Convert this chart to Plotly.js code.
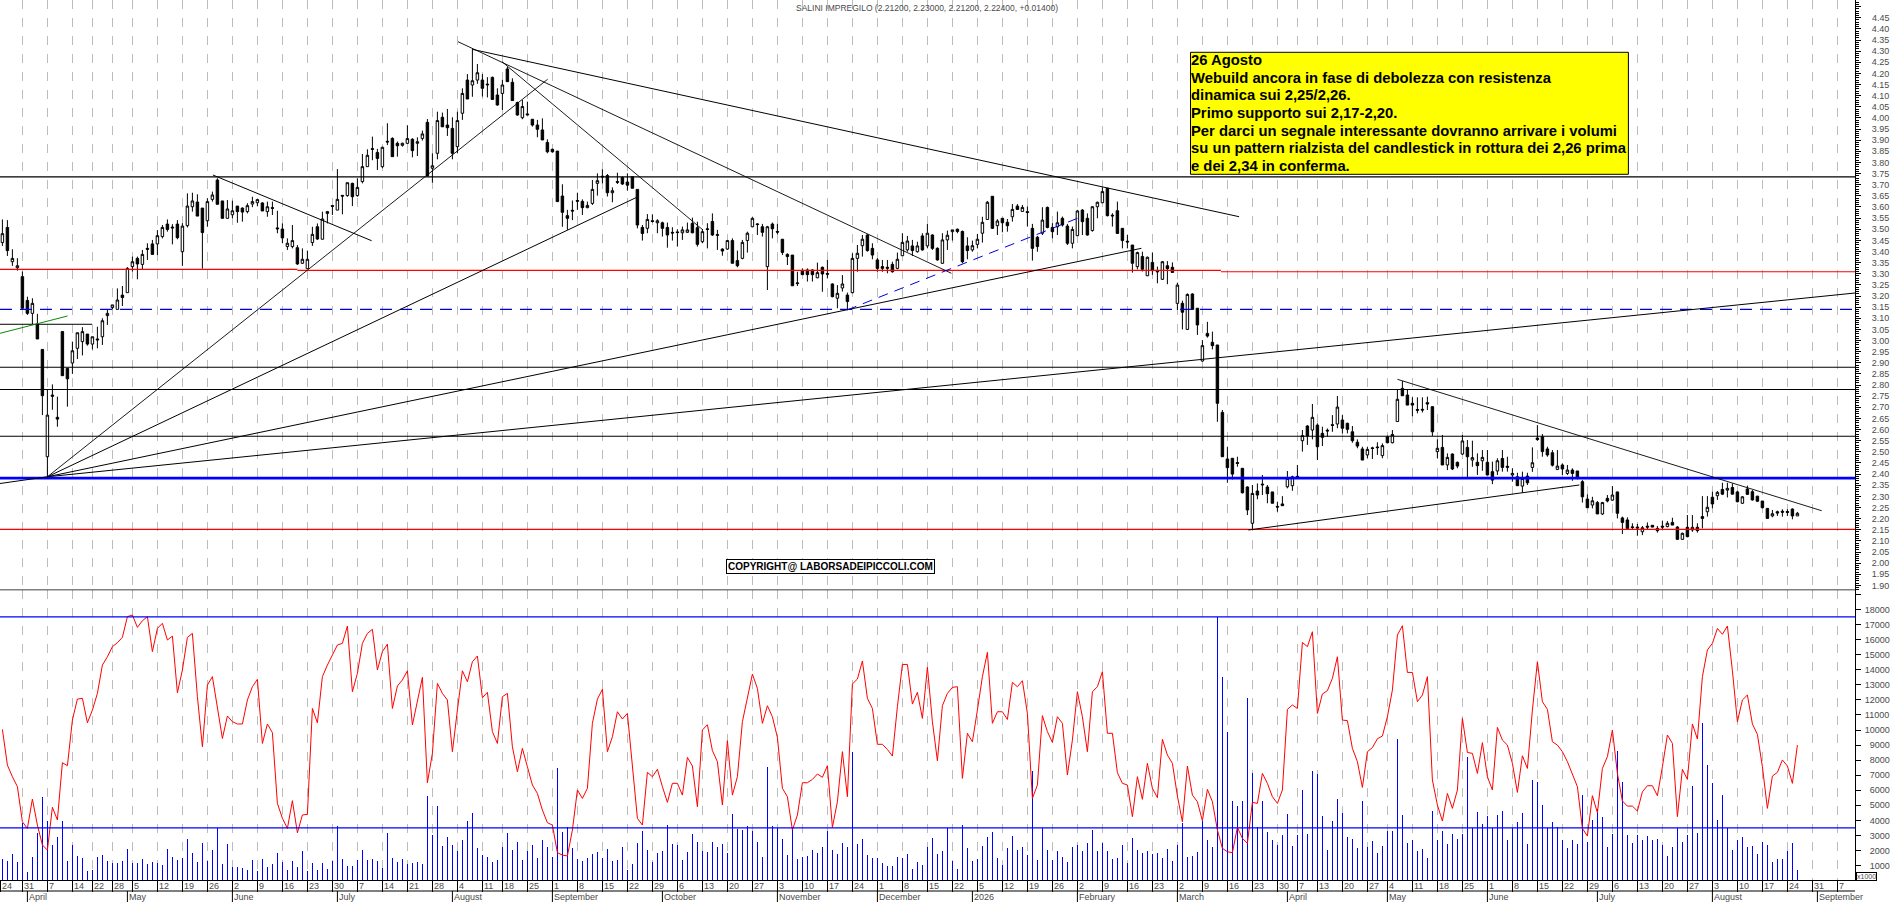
<!DOCTYPE html>
<html><head><meta charset="utf-8">
<script src="https://cdn.plot.ly/plotly-3.0.1.min.js"></script>
<style>html,body{margin:0;padding:0;background:#fff}#c{width:1890px;height:902px}</style></head>
<body><div id="c"></div>
<script>
const openP=[3.44,3.508,3.354,3.327,3.287,3.18,3.122,3.074,2.96,2.478,
2.755,2.655,3.04,2.875,2.899,2.965,2.995,3.029,2.984,3.007,
3.017,3.112,3.148,3.14,3.204,3.215,3.332,3.369,3.342,3.414,
3.434,3.434,3.467,3.523,3.51,3.523,3.399,3.516,3.601,3.622,
3.595,3.538,3.634,3.721,3.627,3.549,3.565,3.604,3.595,3.579,
3.613,3.619,3.618,3.579,3.597,3.506,3.501,3.422,3.422,3.417,
3.347,3.323,3.44,3.511,3.455,3.571,3.606,3.586,3.652,3.651,
3.706,3.651,3.714,3.781,3.862,3.845,3.781,3.895,3.908,3.886,
3.877,3.886,3.904,3.886,3.908,3.98,3.774,3.841,4.003,3.968,
3.953,3.871,4.021,4.17,4.148,4.17,4.17,4.152,4.182,4.103,
4.11,4.22,4.16,4.069,4.001,4.018,3.994,3.968,3.946,3.89,
3.859,3.851,3.649,3.561,3.585,3.629,3.625,3.597,3.616,3.706,
3.738,3.741,3.664,3.714,3.732,3.712,3.736,3.679,3.508,3.504,
3.538,3.529,3.529,3.508,3.486,3.488,3.484,3.486,3.526,3.507,
3.444,3.502,3.535,3.476,3.411,3.411,3.449,3.359,3.369,3.449,
3.511,3.524,3.511,3.332,3.523,3.49,3.455,3.387,3.384,3.259,
3.314,3.317,3.317,3.282,3.329,3.301,3.254,3.19,3.236,3.204,
3.215,3.369,3.426,3.474,3.414,3.362,3.332,3.329,3.342,3.324,
3.381,3.407,3.425,3.399,3.47,3.425,3.474,3.414,3.347,3.452,
3.489,3.5,3.49,3.425,3.407,3.432,3.482,3.544,3.648,3.516,
3.549,3.531,3.556,3.604,3.58,3.579,3.504,3.464,3.482,3.598,
3.508,3.511,3.549,3.514,3.437,3.471,3.586,3.549,3.494,3.601,
3.619,3.684,3.563,3.583,3.504,3.446,3.429,3.332,3.377,3.291,
3.351,3.313,3.275,3.336,3.329,3.167,3.167,3.05,3.209,3.145,
2.908,3.032,2.992,2.98,2.677,2.468,2.471,2.452,2.426,2.342,
2.179,2.324,2.355,2.342,2.32,2.255,2.266,2.343,2.348,2.39,
2.55,2.616,2.598,2.62,2.583,2.597,2.622,2.625,2.643,2.628,
2.59,2.543,2.513,2.486,2.518,2.522,2.483,2.568,2.541,2.636,
2.785,2.755,2.718,2.69,2.691,2.721,2.703,2.501,2.52,2.441,
2.49,2.453,2.49,2.52,2.463,2.453,2.46,2.453,2.411,2.414,
2.47,2.435,2.396,2.388,2.346,2.391,2.43,2.562,2.568,2.513,
2.496,2.421,2.441,2.403,2.418,2.414,2.366,2.288,2.261,2.272,
2.221,2.291,2.283,2.32,2.203,2.194,2.163,2.162,2.141,2.166,
2.17,2.156,2.166,2.164,2.183,2.162,2.107,2.161,2.149,2.161,
2.209,2.231,2.296,2.303,2.331,2.328,2.34,2.32,2.269,2.333,
2.321,2.301,2.279,2.246,2.212,2.231,2.233,2.232,2.243,2.212];
const closeP=[3.48,3.404,3.369,3.336,3.145,3.122,3.167,3.007,2.752,2.665,
2.75,2.647,2.842,2.828,2.954,3.035,3.04,2.984,3.017,3.003,
3.089,3.122,3.16,3.182,3.193,3.324,3.354,3.344,3.387,3.41,
3.387,3.471,3.508,3.499,3.506,3.462,3.514,3.604,3.627,3.559,
3.485,3.624,3.654,3.612,3.549,3.591,3.583,3.579,3.577,3.606,
3.624,3.633,3.582,3.601,3.594,3.502,3.461,3.437,3.449,3.344,
3.365,3.365,3.477,3.456,3.546,3.579,3.603,3.634,3.649,3.709,
3.646,3.688,3.781,3.832,3.859,3.818,3.868,3.892,3.826,3.875,
3.886,3.907,3.853,3.893,3.928,3.74,3.785,3.988,3.96,3.956,
3.841,3.988,4.11,4.085,4.167,4.203,4.133,4.149,4.083,4.058,
4.148,4.163,4.078,4.013,4.051,4.014,3.968,3.949,3.901,3.848,
3.848,3.624,3.576,3.549,3.582,3.626,3.597,3.607,3.679,3.718,
3.735,3.664,3.673,3.711,3.703,3.698,3.684,3.519,3.481,3.544,
3.535,3.538,3.504,3.474,3.483,3.485,3.497,3.497,3.484,3.432,
3.489,3.499,3.474,3.473,3.402,3.449,3.347,3.336,3.441,3.482,
3.549,3.521,3.486,3.511,3.502,3.487,3.396,3.377,3.246,3.256,
3.296,3.296,3.296,3.305,3.299,3.298,3.197,3.212,3.254,3.175,
3.369,3.392,3.455,3.404,3.384,3.324,3.324,3.325,3.309,3.365,
3.441,3.447,3.404,3.425,3.407,3.482,3.414,3.362,3.452,3.473,
3.497,3.49,3.354,3.404,3.426,3.455,3.531,3.621,3.504,3.537,
3.529,3.516,3.589,3.589,3.598,3.575,3.414,3.422,3.541,3.508,
3.489,3.529,3.519,3.437,3.499,3.582,3.534,3.474,3.601,3.621,
3.669,3.561,3.56,3.481,3.449,3.443,3.347,3.395,3.32,3.374,
3.314,3.309,3.354,3.323,3.306,3.249,3.127,3.207,3.14,3.07,
2.977,3.02,2.977,2.718,2.478,2.429,2.4,2.448,2.316,2.239,
2.313,2.306,2.352,2.312,2.269,2.252,2.258,2.381,2.388,2.385,
2.573,2.571,2.655,2.523,2.565,2.594,2.619,2.701,2.606,2.601,
2.55,2.526,2.463,2.511,2.515,2.519,2.528,2.541,2.578,2.736,
2.752,2.71,2.71,2.687,2.688,2.715,2.59,2.516,2.441,2.475,
2.423,2.436,2.549,2.478,2.474,2.438,2.475,2.396,2.373,2.46,
2.43,2.431,2.403,2.348,2.38,2.361,2.451,2.555,2.501,2.486,
2.44,2.436,2.423,2.418,2.403,2.384,2.298,2.249,2.28,2.221,
2.272,2.279,2.306,2.224,2.183,2.156,2.16,2.158,2.159,2.162,
2.162,2.146,2.162,2.179,2.171,2.107,2.134,2.119,2.161,2.146,
2.201,2.251,2.266,2.318,2.31,2.336,2.31,2.276,2.298,2.309,
2.284,2.278,2.249,2.201,2.222,2.225,2.229,2.228,2.212,2.224];
const highP=[3.544,3.541,3.41,3.37,3.31,3.197,3.19,3.12,2.96,2.778,
2.803,2.748,3.04,2.875,2.995,3.035,3.06,3.029,3.017,3.062,
3.10,3.14,3.16,3.234,3.245,3.33,3.377,3.377,3.407,3.437,
3.452,3.496,3.519,3.544,3.523,3.541,3.527,3.661,3.664,3.657,
3.595,3.639,3.669,3.729,3.627,3.631,3.628,3.604,3.598,3.617,
3.646,3.636,3.621,3.624,3.624,3.583,3.526,3.459,3.519,3.429,
3.414,3.404,3.511,3.526,3.579,3.582,3.609,3.77,3.654,3.709,
3.709,3.729,3.838,3.859,3.916,3.861,3.871,3.976,3.913,3.894,
3.889,3.967,3.909,3.913,3.943,3.995,3.841,4.028,4.024,4.04,
4.003,4.028,4.133,4.197,4.308,4.242,4.197,4.183,4.186,4.133,
4.171,4.23,4.178,4.073,4.081,4.073,3.994,3.991,3.998,3.904,
3.862,3.851,3.702,3.587,3.629,3.664,3.634,3.624,3.721,3.751,
3.769,3.748,3.688,3.754,3.736,3.751,3.736,3.679,3.519,3.568,
3.567,3.545,3.534,3.53,3.509,3.5,3.512,3.53,3.552,3.534,
3.501,3.527,3.571,3.497,3.414,3.452,3.459,3.404,3.452,3.489,
3.554,3.527,3.524,3.515,3.53,3.524,3.455,3.392,3.384,3.309,
3.324,3.324,3.32,3.35,3.332,3.362,3.257,3.249,3.294,3.215,
3.392,3.429,3.474,3.477,3.437,3.37,3.362,3.362,3.354,3.395,
3.482,3.47,3.452,3.444,3.482,3.523,3.477,3.419,3.482,3.494,
3.497,3.503,3.494,3.464,3.449,3.479,3.556,3.627,3.648,3.545,
3.549,3.546,3.613,3.613,3.609,3.602,3.524,3.47,3.599,3.602,
3.527,3.579,3.557,3.524,3.512,3.587,3.59,3.571,3.604,3.624,
3.688,3.684,3.572,3.624,3.504,3.474,3.429,3.399,3.399,3.377,
3.395,3.332,3.357,3.357,3.351,3.26,3.179,3.212,3.212,3.145,
3.002,3.084,3.04,2.98,2.688,2.523,2.471,2.478,2.426,2.345,
2.351,2.358,2.396,2.351,2.32,2.276,2.301,2.414,2.393,2.441,
2.598,2.62,2.715,2.628,2.613,2.605,2.665,2.751,2.665,2.631,
2.616,2.556,2.523,2.523,2.523,2.543,2.538,2.573,2.598,2.778,
2.818,2.778,2.745,2.745,2.745,2.748,2.703,2.556,2.576,2.493,
2.493,2.456,2.576,2.553,2.55,2.493,2.508,2.508,2.456,2.471,
2.508,2.478,2.426,2.406,2.411,2.406,2.52,2.62,2.58,2.523,
2.508,2.508,2.448,2.441,2.426,2.414,2.373,2.309,2.298,2.279,
2.275,2.306,2.346,2.32,2.209,2.206,2.179,2.176,2.167,2.183,
2.17,2.167,2.191,2.189,2.204,2.167,2.137,2.216,2.216,2.179,
2.301,2.301,2.321,2.324,2.361,2.361,2.358,2.325,2.301,2.348,
2.328,2.301,2.279,2.246,2.239,2.236,2.242,2.242,2.246,2.23];
const lowP=[3.425,3.38,3.335,3.314,3.145,3.115,3.074,3.007,2.665,2.388,
2.689,2.613,2.842,2.703,2.85,2.917,2.933,2.977,2.96,2.965,
2.98,3.07,3.14,3.14,3.155,3.215,3.31,3.275,3.32,3.362,
3.387,3.384,3.459,3.489,3.432,3.455,3.335,3.508,3.579,3.559,
3.323,3.511,3.624,3.612,3.549,3.549,3.549,3.529,3.534,3.571,
3.599,3.604,3.582,3.556,3.564,3.482,3.437,3.407,3.414,3.34,
3.344,3.323,3.425,3.452,3.455,3.526,3.564,3.586,3.567,3.646,
3.604,3.646,3.706,3.781,3.81,3.766,3.774,3.878,3.826,3.826,
3.871,3.883,3.823,3.829,3.898,3.736,3.709,3.814,3.96,3.919,
3.814,3.841,3.991,4.085,4.095,4.153,4.096,4.092,4.081,4.055,
4.036,4.163,4.078,4.01,3.994,4.012,3.961,3.913,3.901,3.841,
3.844,3.624,3.511,3.497,3.541,3.587,3.564,3.594,3.609,3.651,
3.706,3.647,3.621,3.703,3.699,3.673,3.684,3.504,3.449,3.482,
3.53,3.482,3.467,3.417,3.449,3.422,3.452,3.484,3.482,3.422,
3.437,3.414,3.47,3.407,3.381,3.407,3.347,3.329,3.365,3.395,
3.509,3.474,3.467,3.227,3.459,3.477,3.384,3.339,3.245,3.245,
3.294,3.265,3.265,3.28,3.219,3.28,3.194,3.145,3.22,3.137,
3.212,3.309,3.377,3.399,3.365,3.309,3.309,3.302,3.305,3.32,
3.38,3.399,3.38,3.395,3.404,3.414,3.407,3.359,3.344,3.407,
3.449,3.482,3.347,3.365,3.399,3.414,3.44,3.542,3.501,3.474,
3.486,3.489,3.534,3.589,3.58,3.512,3.359,3.399,3.474,3.504,
3.459,3.474,3.512,3.429,3.414,3.47,3.474,3.471,3.489,3.549,
3.617,3.557,3.512,3.479,3.414,3.414,3.305,3.32,3.31,3.29,
3.295,3.257,3.272,3.253,3.305,3.137,3.05,3.047,3.137,3.025,
2.905,3.013,2.96,2.635,2.478,2.361,2.376,2.433,2.313,2.216,
2.152,2.287,2.306,2.269,2.269,2.231,2.258,2.336,2.325,2.381,
2.501,2.531,2.556,2.463,2.526,2.568,2.59,2.606,2.583,2.583,
2.541,2.516,2.463,2.471,2.468,2.486,2.471,2.538,2.538,2.636,
2.752,2.71,2.66,2.673,2.677,2.688,2.571,2.471,2.441,2.418,
2.418,2.426,2.486,2.385,2.433,2.396,2.415,2.396,2.355,2.396,
2.411,2.411,2.366,2.346,2.316,2.351,2.41,2.55,2.478,2.478,
2.434,2.418,2.396,2.396,2.37,2.376,2.272,2.249,2.246,2.221,
2.216,2.273,2.28,2.201,2.131,2.152,2.149,2.123,2.126,2.149,
2.161,2.137,2.152,2.161,2.171,2.104,2.104,2.116,2.141,2.137,
2.156,2.209,2.246,2.284,2.306,2.295,2.309,2.273,2.266,2.306,
2.281,2.275,2.246,2.2,2.206,2.212,2.209,2.212,2.197,2.212];
// volume, in thousands (the chart is marked x1000)
const volumeK=[1.44,1.31,1.77,1.24,3.80,0.6,1.57,3.19,5.57,3.98,
2.37,2.90,3.98,1.31,2.37,1.64,1.50,0.64,0.71,1.57,
1.70,1.31,1.19,1.17,1.31,2.10,1.17,1.17,1.44,1.11,
1.24,1.17,1.04,2.10,1.57,1.37,1.50,2.77,1.84,1.24,
2.50,1.33,2.04,3.47,1.11,2.43,0.91,0.91,0.84,0.71,
1.37,0.64,1.44,0.91,1.11,1.84,1.24,0.71,1.31,0.91,
1.97,0.64,1.17,0.71,1.17,0.77,1.31,3.63,1.44,0.97,
0.97,1.37,2.04,1.37,1.44,1.31,0.84,3.19,1.50,1.24,
1.44,1.11,1.17,1.24,1.11,5.64,3.03,4.98,2.30,2.90,
2.37,1.97,2.70,3.98,4.49,2.17,1.70,1.57,1.24,1.37,
2.23,3.19,2.04,2.57,1.37,1.97,2.37,1.50,2.70,2.23,
1.57,7.50,3.23,3.56,2.17,1.44,1.31,1.50,1.77,1.90,
1.50,2.10,1.33,1.37,2.23,0.71,1.11,2.50,3.30,2.04,
1.24,1.84,1.97,3.69,2.43,2.37,1.37,1.90,3.10,2.57,
1.97,1.90,2.57,2.23,2.43,1.84,4.42,3.43,3.36,3.63,
3.30,2.57,1.57,7.54,3.63,3.49,2.77,1.70,3.47,1.44,
1.57,1.64,2.04,1.84,2.23,3.30,2.04,1.77,2.50,2.23,
8.52,2.43,2.77,1.70,1.50,1.50,1.17,0.97,0.97,1.57,
1.50,1.77,0.77,1.24,1.04,2.23,2.83,1.77,1.97,3.47,
1.31,0.77,3.69,2.17,1.31,1.44,2.30,2.90,3.23,1.50,
1.04,2.17,2.96,2.04,2.23,1.70,7.30,1.37,3.47,2.04,
1.37,1.97,1.57,1.24,2.23,2.37,1.97,2.50,3.36,1.97,
2.50,1.97,1.44,1.50,2.37,1.17,2.83,2.04,1.84,1.97,
1.77,1.84,1.50,2.10,1.31,2.37,3.85,1.57,1.64,1.90,
3.98,2.70,2.23,17.48,13.52,9.89,5.29,4.95,5.29,12.12,
7.14,3.54,5.29,3.23,2.70,2.37,3.03,4.42,2.30,3.03,
6.02,3.10,7.28,7.08,4.29,2.04,3.96,5.42,4.49,2.90,
2.77,2.17,5.29,2.23,2.63,1.84,2.30,3.32,3.32,9.40,
4.36,2.50,2.70,1.97,2.10,1.50,4.62,2.70,3.30,2.43,
3.10,2.77,3.10,8.23,3.47,4.56,3.78,4.29,3.47,4.36,
4.62,2.70,3.47,3.92,4.49,2.43,6.68,6.55,5.02,3.47,
3.89,3.56,2.70,2.17,2.70,2.43,5.68,2.57,4.03,4.76,
4.22,2.23,3.10,8.60,6.55,3.03,2.50,3.03,2.70,2.96,
2.70,2.77,2.37,1.64,2.23,3.47,2.57,3.03,6.28,3.19,
10.46,7.68,6.50,4.03,5.68,3.47,2.04,2.70,2.90,2.23,
2.30,1.77,2.57,2.37,1.24,1.44,1.44,1.97,2.50,0.71];
// red oscillator drawn in the volume panel, same scale
const indicatorK=[10.04,7.67,6.90,6.24,3.91,3.47,5.42,3.69,2.37,2.03,
4.87,4.03,7.83,7.63,10.66,12.05,12.10,10.48,11.32,12.43,
14.31,14.86,15.53,15.79,16.15,17.52,17.63,16.81,17.25,17.52,
15.2,16.74,17.08,15.97,16.23,12.47,13.98,16.15,16.41,12.21,
8.89,12.98,13.54,11.55,9.44,10.93,10.55,10.4,10.4,11.99,
12.87,13.36,9.11,10.4,9.82,5.13,4.14,3.47,5.31,3.18,
4.36,4.4,11.43,10.48,13.54,14.31,14.97,15.64,15.75,16.9,
12.54,13.76,15.75,16.41,16.68,13.98,15.2,15.7,11.43,12.92,
13.32,13.93,10.33,11.99,13.49,6.5,8.45,13.09,12.43,11.99,
8.56,11.32,13.93,13.2,14.53,14.91,12.14,12.5,9.89,9.11,
12.21,12.43,8.89,7.23,8.78,7.56,6.35,5.79,4.69,3.85,
3.69,1.86,1.7,1.64,3.36,6.02,5.46,6.13,10.44,12.05,
12.7,8.56,9.55,11.21,10.73,11.1,
7.56,4.14,3.69,7.19,6.9,7.39,6.24,5.2,6.46,6.46,
5.68,8.18,7.61,4.91,10,10.35,8.63,7.9,5.02,9.29,
5.68,6.9,10.55,12.21,13.71,12.76,10.44,11.61,10.88,9.51,
6.13,5.57,3.36,4.36,6.5,6.5,6.72,7.08,6.86,7.63,
3.54,5.24,8.56,5.57,13.05,13.38,14.58,12.1,11.43,9.05,
9.05,8.71,8.27,11.55,14.35,14.35,11.72,12.5,10.77,14.16,
10.55,7.96,11.61,12.43,12.83,12.87,6.79,9.78,9.22,11.32,
13.54,15.15,10.44,11.21,11.21,10.7,13.16,12.87,13.27,11.1,
5.46,6.35,10.95,9.89,9.18,10.88,10.44,7.01,9.33,12.54,
10.88,8.56,12.54,12.87,13.87,9.78,9.78,7.17,6.46,6.35,
4.25,6.9,5.4,7.79,6.13,5.51,9.38,8.34,7.79,5.62,
3.91,7.61,5.68,5.24,3.98,6.06,5.24,3.36,2.15,1.92,
1.86,3.54,2.81,2.48,5.2,5.13,
7.12,6.46,5.57,5.13,6.02,11.37,11.66,11.43,15.81,15.53,
16.52,11.1,12.39,12.61,13.43,14.86,10.66,10.62,8.78,7.9,
6.19,8.56,8.83,9.42,9.6,10.88,12.65,16.3,16.92,13.82,
13.82,11.88,12.32,13.54,6.68,5.02,3.96,5.79,4.8,6.02,
10.77,8.51,8.45,7.12,9.16,6.9,6.02,10.17,9.33,9,
7.79,5.86,8.29,7.45,11.32,14.53,11.88,11.37,9.22,9,
8.56,7.9,7.12,6.24,3.47,2.96,5.64,4.51,7.45,8.23,
10,7.12,5.29,4.95,4.95,4.62,5.9,6.3,6.3,5.64,
7.56,9.67,9.11,4.25,7.39,6.72,10.4,9.4,13.54,15.31,
15.75,16.74,16.35,16.9,13.93,10.55,11.99,12.32,10.4,9.71,
7.56,4.8,6.94,7.19,8.01,7.61,6.46,9];

const barIndex=openP.map((_,i)=>i);
// Calendar ticks: position in trading sessions and printed label
const dayTickIdx=[-0.4,4,9,14,18,22,26,31,36,41,46,51,56,61,66,71,76,81,86,91,96,100,105,110,115,120,125,130,135,140,145,150,155,160,165,170,175,180,185,190,195,200,205,210,215,220,225,230,235,240,245,250,255,259,263,268,273,277,282,287,292,297,302,307,312,317,322,327,332,337,342,347,352,357,362,367];
const dayTickLabels=['24','31','7','14','22','28','5','12','19','26','2','9','16','23','30','7','14','21','28','4','11','18','25','1','8','15','22','29','6','13','20','27','3','10','17','24','1','8','15','22','5','12','19','26','2','9','16','23','2','9','16','23','30','7','13','20','27','4','11','18','25','1','8','15','22','29','6','13','20','27','3','10','17','24','31','7'];
const monthTickIdx=[5,25,46,67,90,110,132,155,175,194,215,235,257,277,297,319,342,363];
const monthLabels=['April','May','June','July','August','September','October','November','December','2026','February','March','April','May','June','July','August','September'];
// 4.50 has a tick mark but no printed label in the reference
const priceTicks=[];for(let k=190;k<=450;k+=5)priceTicks.push(k/100);
const volumeTicks=[1,2,3,4,5,6,7,8,9,10,11,12,13,14,15,16,17,18,19];
const volumeTickLabels=['1000','2000','3000','4000','5000','6000','7000','8000','9000','10000','11000','12000','13000','14000','15000','16000','17000','18000',''];

// Horizontal levels [price, from bar, to bar, colour, width, dash]
const priceLevels=[
 [3.735,-0.48,370.52,'#000000',1.2,'solid'],
 [3.32,-0.48,59,'#ff0000',1.2,'solid'],
 [3.315,59,243.7,'#ff0000',1.2,'solid'],
 [3.309,243.7,370.52,'#ff0000',1.2,'solid'],
 [3.14,-0.48,370.52,'#0000e0',1.2,'dash'],
 [3.073,-0.48,17.92,'#000000',1,'solid'],
 [2.88,-0.48,370.52,'#000000',1.2,'solid'],
 [2.78,-0.48,370.52,'#000000',1.2,'solid'],
 [2.57,-0.48,370.52,'#000000',1.2,'solid'],
 [2.382,-0.48,370.52,'#0000ff',2.6,'solid'],
 [2.152,-0.48,370.52,'#ff0000',1.3,'solid'],
 [1.878,-0.48,370.52,'#000000',1.4,'solid']];
const volumeLevels=[17.5,3.5];
// Trend lines [bar0, price0, bar1, price1, colour, width, dash]
const trendLines=[
 [42.1,3.7436,73.84,3.4484,'#000000',1,'solid'],
 [9,2.388,109.04,4.1735,'#000000',0.9,'solid'],
 [9,2.388,127.12,3.6461,'#000000',1,'solid'],
 [9,2.388,227.8,3.4143,'#000000',1,'solid'],
 [9,2.388,370.52,3.2135,'#000000',1,'solid'],
 [-0.48,2.3577,9,2.388,'#000000',1,'solid'],
 [91.12,4.3424,189.8,3.302,'#000000',0.9,'solid'],
 [93.92,4.3083,247.34,3.5562,'#000000',1,'solid'],
 [99.92,4.2526,140.12,3.4965,'#000000',0.9,'solid'],
 [168.92,3.1371,215.52,3.5535,'#0000e0',1,'dash'],
 [279,2.8258,363.86,2.2355,'#000000',0.9,'solid'],
 [249.18,2.1488,315.4,2.351,'#000000',1,'solid'],
 [-0.48,3.0324,13.02,3.1102,'#0a8a0a',1,'solid']];

const noteLines=['26 Agosto','Webuild ancora in fase di debolezza con resistenza','dinamica sui 2,25/2,26.','Primo supporto sui 2,17-2,20.','Per darci un segnale interessante dovranno arrivare i volumi','su un pattern rialzista del candlestick in rottura dei 2,26 prima','e dei 2,34 in conferma.'];
const titleText='SALINI IMPREGILO (2.21200, 2.23000, 2.21200, 2.22400, +0.01400)';
const copyrightText='COPYRIGHT@ LABORSADEIPICCOLI.COM';

const W=1855,H=880,FONT='"Liberation Sans",Arial,sans-serif',GREY='#4a4a4a';
const py=p=>(H-p)/H, px=p=>p/W;
const shapes=[],annotations=[];
priceLevels.forEach(l=>shapes.push({type:'line',xref:'x',yref:'y',x0:l[1],x1:l[2],y0:l[0],y1:l[0],line:{color:l[3],width:l[4],dash:l[5]==='dash'?'12px,8px':'solid'},layer:'above'}));
volumeLevels.forEach(v=>shapes.push({type:'line',xref:'paper',x0:0,x1:1,yref:'y2',y0:v,y1:v,line:{color:'#0000ff',width:1.2},layer:'above'}));
trendLines.forEach(t=>shapes.push({type:'line',xref:'x',yref:'y',x0:t[0],y0:t[1],x1:t[2],y1:t[3],line:{color:t[4],width:t[5],dash:t[6]==='dash'?'10px,7px':'solid'},layer:'above'}));
// calendar row separator and month ticks
shapes.push({type:'line',xref:'paper',yref:'paper',x0:0,x1:1,y0:py(891),y1:py(891),line:{color:'#000',width:1}});
monthTickIdx.forEach(i=>shapes.push({type:'line',xref:'x',yref:'paper',x0:i,x1:i,y0:py(891),y1:py(902),line:{color:'#000',width:1}}));
// note box
shapes.push({type:'rect',xref:'paper',yref:'paper',x0:px(1190.5),x1:px(1628.4),y0:py(52.3),y1:py(174.3),fillcolor:'#ffff00',line:{color:'#000',width:1},layer:'above'});
const noteY=[60,78,95,113,131,148,166];
noteLines.forEach((t,k)=>annotations.push({xref:'paper',yref:'paper',x:px(1190),y:py(noteY[k]),xanchor:'left',yanchor:'middle',text:t,showarrow:false,align:'left',font:{family:FONT,size:14.8,color:'#000',weight:700},borderpad:0}));
annotations.push({xref:'paper',yref:'paper',x:px(830.3),y:py(566.5),xanchor:'center',yanchor:'middle',text:copyrightText,showarrow:false,font:{family:FONT,size:10,color:'#000',weight:700},bgcolor:'#fff',bordercolor:'#000',borderwidth:1,borderpad:1});
dayTickIdx.forEach((i,k)=>annotations.push({xref:'x',yref:'paper',x:i,xshift:1,y:py(886),xanchor:'left',yanchor:'middle',text:dayTickLabels[k],showarrow:false,font:{family:FONT,size:9,color:GREY},borderpad:0}));
monthTickIdx.forEach((i,k)=>annotations.push({xref:'x',yref:'paper',x:i,xshift:1,y:py(897),xanchor:'left',yanchor:'middle',text:monthLabels[k],showarrow:false,font:{family:FONT,size:9,color:GREY},borderpad:0}));
annotations.push({xref:'paper',yref:'paper',x:px(1866.5),y:py(876.5),xanchor:'center',yanchor:'middle',text:'x1000',showarrow:false,font:{family:FONT,size:7,color:GREY},bordercolor:'#000',borderwidth:1,borderpad:0});
// top price label, kept as an explicit annotation so it is always printed
annotations.push({xref:'paper',yref:'y',x:px(1871),y:4.45,xanchor:'left',yanchor:'middle',text:'4.45',showarrow:false,font:{family:FONT,size:9,color:GREY},borderpad:0});

const split=(880-590.3)/880;
const traces=[
 {type:'bar',x:barIndex,y:volumeK,xaxis:'x',yaxis:'y2',width:0.28,marker:{color:'#0000ff',line:{width:0}},hoverinfo:'skip'},
 {type:'scatter',mode:'lines',x:barIndex,y:indicatorK,xaxis:'x',yaxis:'y2',line:{color:'#ff0000',width:1},hoverinfo:'skip'},
 {type:'candlestick',x:barIndex,open:openP,high:highP,low:lowP,close:closeP,xaxis:'x',yaxis:'y',whiskerwidth:0,
  increasing:{line:{color:'#000',width:1},fillcolor:'#ffffff'},decreasing:{line:{color:'#000',width:1},fillcolor:'#000000'},hoverinfo:'skip'}
];
const layout={
 width:1890,height:902,margin:{l:0,r:35,t:0,b:22,pad:0},paper_bgcolor:'#fff',plot_bgcolor:'#fff',showlegend:false,boxgap:0.3,
 title:{text:titleText,xref:'container',yref:'container',x:927/1890,y:1-8/902,xanchor:'center',yanchor:'middle',font:{family:FONT,size:8.5,color:GREY}},
 font:{family:FONT},
 xaxis:{domain:[0,1],range:[-0.48,370.52],anchor:'y2',rangeslider:{visible:false},tickmode:'array',tickvals:dayTickIdx,ticktext:dayTickLabels.map(()=>''),
  ticks:'outside',ticklen:11,tickcolor:'#000',tickwidth:1,showticklabels:false,showgrid:true,griddash:'dash',gridcolor:'#bcbcbc',gridwidth:1,showline:true,linecolor:'#000',linewidth:1,zeroline:false},
 yaxis:{domain:[split,1],range:[1.878,4.5297],side:'right',anchor:'x',tickmode:'array',tickvals:priceTicks,ticktext:priceTicks.map(v=>(v===4.5||v===4.45)?'':v.toFixed(2)),ticks:'outside',ticklen:5,tickcolor:'#000',
  ticklabelstandoff:9,ticklabeloverflow:'allow',tickfont:{family:FONT,size:9,color:GREY},showgrid:false,showline:true,linecolor:'#000',linewidth:1,zeroline:false,
  minor:{tickmode:'linear',tick0:0,dtick:0.01,ticks:'outside',ticklen:3,tickcolor:'#000',showgrid:false}},
 yaxis2:{domain:[0,split],range:[0.046,19.27],side:'right',anchor:'x',tickmode:'array',tickvals:volumeTicks,
  ticktext:volumeTickLabels.map(t=>t.length===4?'\u00a0\u00a0'+t:t),ticks:'outside',ticklen:5,tickcolor:'#000',
  ticklabelstandoff:2,ticklabeloverflow:'allow',tickfont:{family:FONT,size:9,color:GREY},showgrid:false,showline:true,linecolor:'#000',linewidth:1,zeroline:false},
 shapes:shapes,annotations:annotations,bargap:0
};
Plotly.newPlot('c',traces,layout,{staticPlot:true,displayModeBar:false});
</script></body></html>
